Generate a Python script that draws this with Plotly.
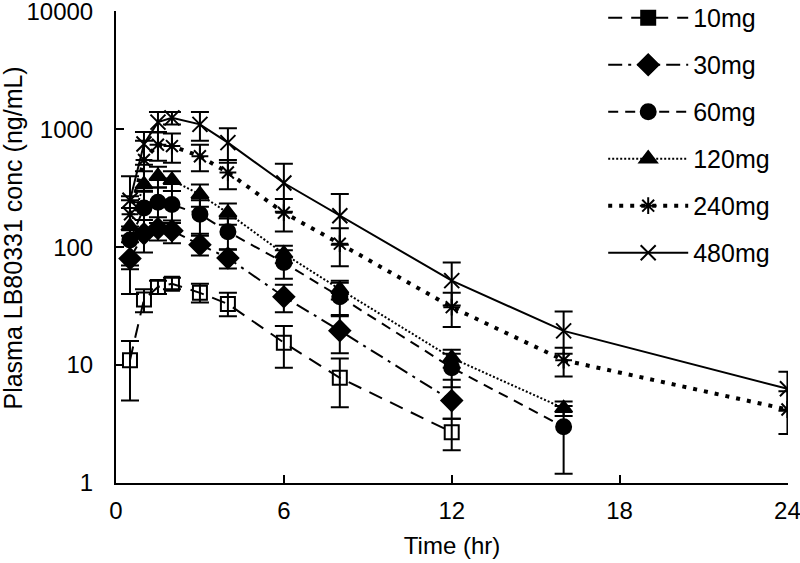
import plotly.graph_objects as go

times_a = [0.5, 1, 1.5, 2, 3, 4, 6, 8, 12]
times_b = [0.5, 1, 1.5, 2, 3, 4, 6, 8, 12, 16]
times_c = [0.5, 1, 1.5, 2, 3, 4, 6, 8, 12, 16, 24]

mg10 = [11, 36, 46, 49, 41, 33, 15.5, 7.8, 2.7]
mg10_up = [5, 8, 6, 6, 8, 8, 6, 3.6, 0.8]
mg10_dn = [6, 8, 6, 5, 7, 7, 6, 3.4, 0.8]

mg30 = [80, 130, 144, 138, 105, 81, 38, 19.6, 5.0]
mg30_up = [45, 40, 35, 30, 20, 15, 10, 7, 2.5]
mg30_dn = [40, 40, 30, 30, 20, 15, 10, 7, 1.5]

mg60 = [115, 215, 240, 230, 190, 135, 74, 38, 9.5, 3.0]
mg60_up = [100, 80, 80, 70, 60, 40, 20, 12, 3, 1.5]
mg60_dn = [50, 80, 80, 70, 60, 40, 20, 12, 3, 1.8]

mg120 = [150, 340, 400, 370, 280, 195, 88, 44, 11.5, 4.3]
mg120_up = [100, 100, 80, 70, 60, 40, 15, 8, 2, 0.6]
mg120_dn = [80, 100, 80, 70, 60, 40, 15, 8, 2, 0.6]

mg240 = [190, 550, 740, 720, 590, 430, 196, 107, 31, 11, 4.2]
mg240_up = [80, 250, 200, 200, 150, 120, 60, 38, 10, 3, 1.8]
mg240_dn = [80, 250, 200, 200, 150, 120, 60, 38, 10, 3, 1.6]

mg480 = [250, 750, 1150, 1250, 1100, 770, 350, 185, 52, 19.5, 6.3]
mg480_up = [150, 200, 250, 150, 300, 250, 160, 98, 22, 9, 2.5]
mg480_dn = [100, 250, 200, 150, 300, 250, 150, 80, 20, 7, 2.2]

labels = ["10mg", "30mg", "60mg", "120mg", "240mg", "480mg"]
y_ticks = [1, 10, 100, 1000, 10000]
x_ticks = [0, 6, 12, 18, 24]

FONT = "Arial, Liberation Sans, sans-serif"
series = [
    (times_a, mg10, mg10_up, mg10_dn, "square-open", 14, "14px,9px", 2),
    (times_a, mg30, mg30_up, mg30_dn, "diamond", 16, "14px,6px,3px,6px", 2),
    (times_b, mg60, mg60_up, mg60_dn, "circle", 15, "10px,7px", 2),
    (times_b, mg120, mg120_up, mg120_dn, "triangle-up", 15, "2px,2px", 2),
    (times_c, mg240, mg240_up, mg240_dn, "asterisk-open", 14, "4px,7px", 4),
    (times_c, mg480, mg480_up, mg480_dn, "x-thin-open", 15, "solid", 2),
]
legend_symbols = ["square", "diamond", "circle", "triangle-up", "asterisk-open", "x-thin-open"]

fig = go.Figure()
for i, (t, v, up, dn, sym, sz, dash, lw) in enumerate(series):
    fig.add_trace(go.Scatter(
        x=t, y=v, mode="lines+markers", name=labels[i],
        showlegend=False,
        line=dict(color="black", width=lw, dash=dash),
        marker=dict(symbol=sym, size=sz, color="black",
                    line=dict(color="black", width=2)),
        error_y=dict(type="data", symmetric=False, array=up, arrayminus=dn,
                     color="black", thickness=2, width=9),
    ))
for i, (t, v, up, dn, sym, sz, dash, lw) in enumerate(series):
    fig.add_trace(go.Scatter(
        x=[None], y=[None], mode="lines+markers", name=labels[i],
        legendgroup=labels[i],
        line=dict(color="black", width=lw, dash=dash),
        marker=dict(symbol=legend_symbols[i], size=sz, color="black",
                    line=dict(color="black", width=2)),
    ))

fig.update_layout(
    width=800, height=563,
    margin=dict(l=116, r=12, t=11, b=80, autoexpand=False),
    paper_bgcolor="white", plot_bgcolor="white",
    font=dict(family=FONT, size=24, color="black"),
    showlegend=True,
    legend=dict(x=0.725, y=1.034, xanchor="left", yanchor="top",
                font=dict(size=25), traceorder="grouped",
                tracegroupgap=11.5, itemwidth=80, bgcolor="rgba(0,0,0,0)"),
    xaxis=dict(range=[0, 24.02], tickvals=x_ticks, ticks="inside", ticklen=8,
               tickwidth=2, tickcolor="black", showline=True, linewidth=2,
               linecolor="black", showgrid=False, zeroline=False,
               automargin=False, ticklabelstandoff=5, ticklabeloverflow="allow",
               title=dict(text="Time (hr)", font=dict(size=24), standoff=14),
               tickfont=dict(size=24)),
    yaxis=dict(type="log", range=[0, 4.003], tickvals=y_ticks,
               ticktext=[str(v) for v in y_ticks], ticks="inside", ticklen=8,
               tickwidth=2, tickcolor="black", showline=True, linewidth=2,
               linecolor="black", showgrid=False, zeroline=False,
               automargin=False, ticklabelstandoff=16, ticklabeloverflow="allow",
               tickfont=dict(size=24)),
    annotations=[dict(text="Plasma LB80331 conc (ng/mL)", textangle=-90,
                      xref="paper", yref="paper", x=-0.1533, y=0.52,
                      xanchor="center", yanchor="middle", showarrow=False,
                      font=dict(size=25))],
)

fig.write_html("out.html", config={"displayModeBar": False},
               post_script="document.body.style.margin='0';")
